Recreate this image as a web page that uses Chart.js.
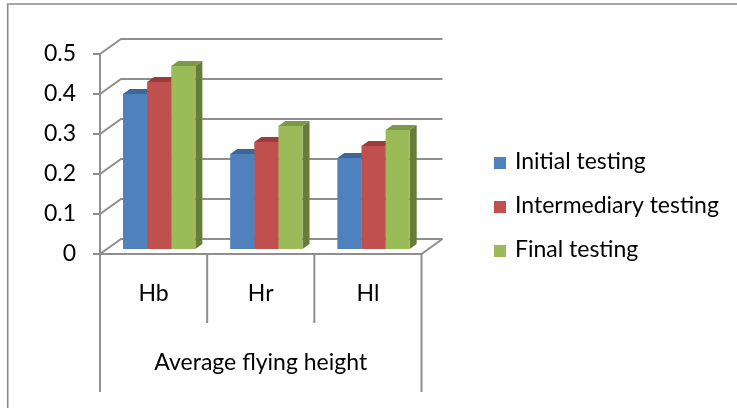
<!DOCTYPE html>
<html>
<head>
<meta charset="utf-8">
<title>Average flying height</title>
<script src="https://cdn.jsdelivr.net/npm/chart.js@4.4.1/dist/chart.umd.min.js"></script>
<style>
  html, body { margin: 0; padding: 0; background: #ffffff; }
  #wrap { width: 737px; height: 408px; }
</style>
</head>
<body>
<div id="wrap"><canvas id="chart" width="737" height="408"></canvas></div>
<script>
// ---- data ----
const categories = ['Hb', 'Hr', 'Hl'];
const axisTitle = 'Average flying height';
const seriesNames = ['Initial testing', 'Intermediary testing', 'Final testing'];
const initialTesting = [0.39, 0.24, 0.23];
const intermediaryTesting = [0.42, 0.27, 0.26];
const finalTesting = [0.46, 0.31, 0.30];
const yTicks = [0, 0.1, 0.2, 0.3, 0.4, 0.5];

// ---- look ----
const FONT = 'Lato, "Open Sans", sans-serif';
const FONT_SIZE = 23;
const GRID = '#8e8e8e';
const FRONT = ['#4f81bd', '#c0504d', '#9bbb59'];
const TOP = ['#3d6699', '#9a3d3a', '#7d9947'];
const SIDE = ['#345783', '#833331', '#667c3a'];

const WALL = { dx: 21, dy: -15 };      // depth of floor and back wall
const BAR_SHIFT = { dx: 5.6, dy: -4 }; // bars stand a little behind the front edge
const BAR_DEPTH = { dx: 7, dy: -5 };   // thickness of each bar

const PLOT = { left: 100, right: 421.5, top: 54, bottom: 254 };
const CANVAS = { w: 737, h: 408 };

const LEGEND = { boxX: 494, textX: 515, firstY: 163, step: 44, box: 12 };

function line(ctx, pts) {
  ctx.beginPath();
  ctx.moveTo(pts[0][0], pts[0][1]);
  for (let i = 1; i < pts.length; i++) ctx.lineTo(pts[i][0], pts[i][1]);
  ctx.stroke();
}
function poly(ctx, pts, color) {
  ctx.beginPath();
  ctx.moveTo(pts[0][0], pts[0][1]);
  for (let i = 1; i < pts.length; i++) ctx.lineTo(pts[i][0], pts[i][1]);
  ctx.closePath();
  ctx.fillStyle = color;
  ctx.fill();
}

// Frame, back wall, floor, category dividers and the depth faces of the bars.
const depthPlugin = {
  id: 'depth',
  beforeDraw(chart) {
    const ctx = chart.ctx;
    ctx.save();
    ctx.strokeStyle = '#8a8a8a';
    ctx.lineWidth = 1.6;
    line(ctx, [[7.7, CANVAS.h], [7.7, 4], [CANVAS.w, 4]]);
    ctx.restore();
  },
  beforeDatasetsDraw(chart) {
    const ctx = chart.ctx;
    const { left, right, bottom } = chart.chartArea;
    const ys = chart.scales.y;
    const xs = chart.scales.x;

    ctx.save();
    ctx.strokeStyle = GRID;
    ctx.lineWidth = 2;
    ctx.lineCap = 'butt';
    // side wall diagonals + back wall gridlines
    yTicks.forEach(v => {
      const y = ys.getPixelForValue(v);
      line(ctx, [[left, y], [left + WALL.dx, y + WALL.dy], [right + WALL.dx, y + WALL.dy]]);
    });
    // right edge of the floor
    line(ctx, [[right, bottom], [right + WALL.dx, bottom + WALL.dy]]);
    // category dividers below the floor
    for (let i = 0; i <= categories.length; i++) {
      const x = xs.getPixelForValue(i - 0.5);
      const outer = (i === 0 || i === categories.length);
      line(ctx, [[x, bottom], [x, bottom + (outer ? 138 : 69)]]);
    }
    ctx.restore();

    // bars are drawn in the shifted plane; restored in afterDatasetsDraw
    ctx.save();
    ctx.translate(BAR_SHIFT.dx, BAR_SHIFT.dy);
    chart.data.datasets.forEach((ds, di) => {
      const meta = chart.getDatasetMeta(di);
      if (meta.hidden) return;
      meta.data.forEach(el => {
        const { x, y, base, width } = el.getProps(['x', 'y', 'base', 'width'], true);
        const l = x - width / 2, r = x + width / 2;
        poly(ctx, [[r, y], [r + BAR_DEPTH.dx, y + BAR_DEPTH.dy],
                   [r + BAR_DEPTH.dx, base + BAR_DEPTH.dy], [r, base]], SIDE[di]);
        poly(ctx, [[l, y], [l + BAR_DEPTH.dx, y + BAR_DEPTH.dy],
                   [r + BAR_DEPTH.dx, y + BAR_DEPTH.dy], [r, y]], TOP[di]);
      });
    });
  },
  afterDatasetsDraw(chart) {
    chart.ctx.restore();
  },
  afterDraw(chart) {
    const ctx = chart.ctx;
    ctx.save();
    ctx.font = FONT_SIZE + 'px ' + FONT;
    ctx.textBaseline = 'alphabetic';
    ctx.textAlign = 'left';
    chart.data.datasets.forEach((ds, i) => {
      const yc = LEGEND.firstY + i * LEGEND.step;
      ctx.fillStyle = ds.backgroundColor;
      ctx.fillRect(LEGEND.boxX, yc - LEGEND.box / 2, LEGEND.box, LEGEND.box);
      ctx.fillStyle = '#000000';
      ctx.fillText(ds.label, LEGEND.textX, yc + LEGEND.box / 2);
    });
    ctx.restore();
  }
};

const values = [initialTesting, intermediaryTesting, finalTesting];

new Chart(document.getElementById('chart'), {
  type: 'bar',
  data: {
    labels: categories,
    datasets: values.map((v, i) => ({
      label: seriesNames[i],
      data: v,
      backgroundColor: FRONT[i],
      borderWidth: 0,
      barPercentage: 1.0,
      categoryPercentage: 0.675
    }))
  },
  options: {
    responsive: false,
    devicePixelRatio: 1,
    animation: false,
    layout: {
      padding: { left: 0, top: PLOT.top, right: CANVAS.w - PLOT.right, bottom: 0 }
    },
    plugins: {
      legend: { display: false },
      tooltip: { enabled: false }
    },
    scales: {
      x: {
        grid: { display: false, drawTicks: false },
        border: { display: true, color: GRID, width: 2 },
        ticks: {
          color: '#000000',
          font: { family: FONT, size: FONT_SIZE },
          padding: 26,
          maxRotation: 0
        },
        title: {
          display: true,
          text: axisTitle,
          color: '#000000',
          font: { family: FONT, size: FONT_SIZE },
          padding: { top: 0, bottom: 32 }
        },
        afterFit(scale) { scale.height = CANVAS.h - PLOT.bottom; }
      },
      y: {
        min: 0,
        max: 0.5,
        afterBuildTicks(scale) { scale.ticks = yTicks.map(v => ({ value: v })); },
        grid: {
          display: true,
          drawOnChartArea: false,
          drawTicks: true,
          tickLength: 7,
          color: GRID,
          lineWidth: 2
        },
        border: { display: true, color: GRID, width: 2 },
        ticks: {
          color: '#000000',
          font: { family: FONT, size: FONT_SIZE },
          padding: 17,
          callback: v => String(+Number(v).toFixed(1))
        },
        afterFit(scale) { scale.width = PLOT.left; }
      }
    }
  },
  plugins: [depthPlugin]
});
</script>
</body>
</html>
